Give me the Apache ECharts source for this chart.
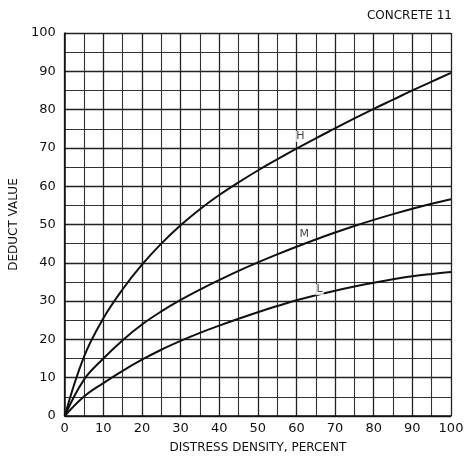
<!DOCTYPE html>
<html>
<head>
<meta charset="utf-8">
<script src="https://cdn.jsdelivr.net/npm/echarts@6/dist/echarts.min.js"></script>
<style>html,body{margin:0;padding:0;background:#fff}#c{width:473px;height:466px}</style>
</head>
<body>
<div id="c"></div>
<script>
const density = [0, 5, 10, 15, 20, 25, 30, 35, 40, 45, 50, 55, 60, 65, 70, 75, 80, 85, 90, 95, 100];
const valuesH = [0, 15.5, 25.5, 33.1, 39.5, 45.0, 49.8, 54.0, 57.7, 61.0, 64.1, 67.0, 69.8, 72.5, 75.1, 77.7, 80.2, 82.6, 85.0, 87.3, 89.6];
const valuesM = [0, 9.5, 15.0, 19.8, 23.9, 27.3, 30.3, 33.0, 35.5, 37.9, 40.1, 42.2, 44.2, 46.1, 47.9, 49.6, 51.2, 52.7, 54.1, 55.4, 56.6];
const valuesL = [0, 5.1, 8.6, 11.8, 14.7, 17.3, 19.6, 21.7, 23.6, 25.4, 27.1, 28.7, 30.2, 31.5, 32.7, 33.8, 34.8, 35.7, 36.5, 37.1, 37.6];
const curveNames = ['H', 'M', 'L'];
const labelX = [61, 62, 66];
const labelY = [73, 47.5, 33];
const titleText = 'CONCRETE 11';
const xTitle = 'DISTRESS DENSITY, PERCENT';
const yTitle = 'DEDUCT VALUE';

const zip = (xs, ys) => xs.map((x, i) => [x, ys[i]]);
const font = 'DejaVu Sans';
const lineSeries = (name, data) => ({
  name, type: 'line', data, smooth: 0.4, symbol: 'none',
  lineStyle: {color: '#111', width: 2}, z: 5
});
const chart = echarts.init(document.getElementById('c'));
chart.setOption({
  animation: false,
  title: {text: titleText, right: 16, top: 5,
    textStyle: {fontFamily: font, fontSize: 12, fontWeight: 'normal', color: '#111'}},
  grid: {left: 61, right: 22, top: 33, bottom: 50},
  xAxis: {
    type: 'value', min: 0, max: 100, interval: 10,
    name: xTitle, nameLocation: 'middle', nameGap: 26,
    nameTextStyle: {fontFamily: font, fontSize: 12, color: '#111'},
    axisLine: {lineStyle: {color: '#111', width: 1.5}},
    axisTick: {show: false},
    axisLabel: {fontFamily: font, fontSize: 13, color: '#111', margin: 6},
    splitLine: {show: true, lineStyle: {color: '#222', width: 1.3}},
    minorTick: {show: false, splitNumber: 2},
    minorSplitLine: {show: true, lineStyle: {color: '#333', width: 1.1}}
  },
  yAxis: {
    type: 'value', min: 0, max: 100, interval: 10,
    name: yTitle, nameLocation: 'middle', nameGap: 38, nameRotate: 90,
    nameTextStyle: {fontFamily: font, fontSize: 12, color: '#111'},
    axisLine: {show: true, lineStyle: {color: '#111', width: 1.5}},
    axisTick: {show: false},
    axisLabel: {fontFamily: font, fontSize: 13, color: '#111', margin: 9},
    splitLine: {show: true, lineStyle: {color: '#222', width: 1.3}},
    minorTick: {show: false, splitNumber: 2},
    minorSplitLine: {show: true, lineStyle: {color: '#333', width: 1.1}}
  },
  series: [
    lineSeries('H', zip(density, valuesH)),
    lineSeries('M', zip(density, valuesM)),
    lineSeries('L', zip(density, valuesL)),
    {
      type: 'scatter', symbolSize: 0, z: 6,
      data: curveNames.map((n, i) => ({value: [labelX[i], labelY[i]], name: n})),
      label: {show: true, position: 'inside', formatter: p => p.name,
        fontFamily: font, fontSize: 11, color: '#111', backgroundColor: '#fff', padding: [0, 1]}
    }
  ]
});
</script>
</body>
</html>
